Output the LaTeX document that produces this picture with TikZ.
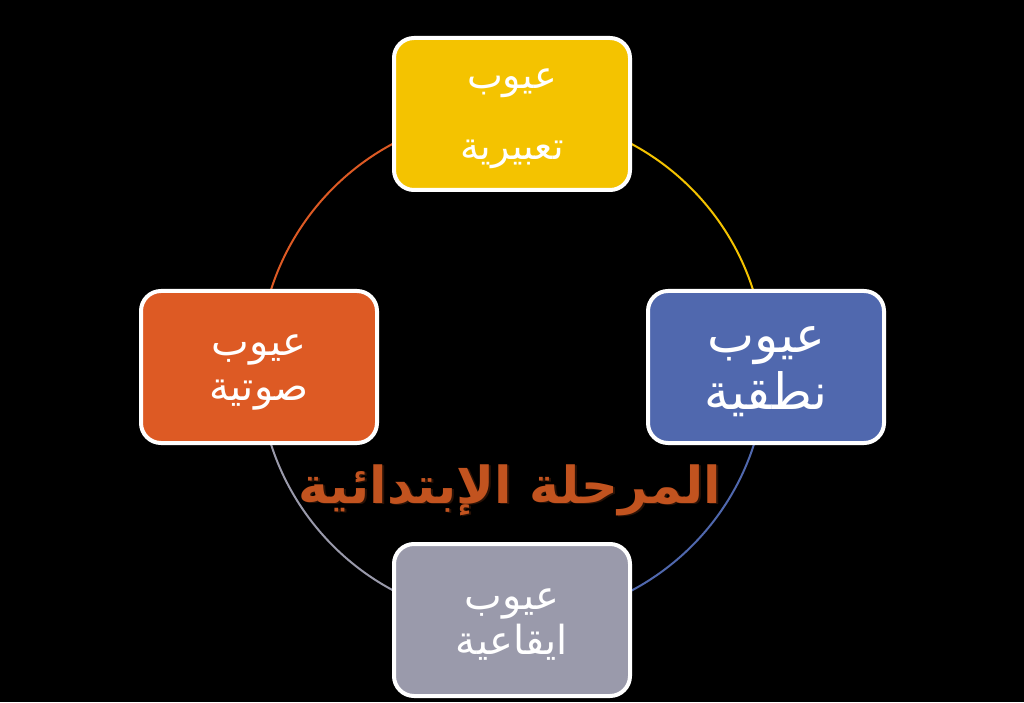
\documentclass[tikz,border=0pt]{standalone}
\usepackage{fontspec}
\usetikzlibrary{backgrounds}
\TeXXeTstate=1
\newfontfamily\arabicfont[Script=Arabic]{DejaVu Sans}
\definecolor{cyel}{HTML}{F4C300}
\definecolor{cblue}{HTML}{5068AE}
\definecolor{corange}{HTML}{DD5A24}
\definecolor{cgray}{HTML}{9A9AAB}
\definecolor{ctitle}{HTML}{C2531F}
\definecolor{cshadow}{HTML}{2A1206}
\tikzset{
  box/.style={draw=white, line width=4pt, rounded corners=20pt,
    minimum width=236pt, minimum height=152pt, inner sep=0pt},
  lbl/.style={align=center, text=white, yshift=-5pt, inner sep=0pt},
  ring/.style={line width=2pt},
  titlefont/.style={font=\arabicfont\bfseries\fontsize{51}{58}\selectfont}
}
\begin{document}
\begin{tikzpicture}[x=1pt,y=1pt]
\node[box, fill=cyel, label={[lbl, font=\arabicfont\fontsize{38}{44}\selectfont]center:{\beginR عيوب\endR\\[27pt]\beginR تعبيرية\endR}}] (top) at (512,588) {};
\node[box, fill=cblue, label={[lbl, font=\arabicfont\fontsize{50}{57}\selectfont]center:{\beginR عيوب\endR\\\beginR نطقية\endR}}] (right) at (766,335) {};
\node[box, fill=corange, label={[lbl, font=\arabicfont\fontsize{40}{45}\selectfont]center:{\beginR عيوب\endR\\\beginR صوتية\endR}}] (left) at (259,335) {};
\node[box, fill=cgray, label={[lbl, font=\arabicfont\fontsize{40}{45}\selectfont]center:{\beginR عيوب\endR\\\beginR ايقاعية\endR}}] (bottom) at (512,82) {};
\begin{scope}[on background layer]
\fill[black] (0,0) rectangle (1024,702);
\draw[ring, cyel] (top.center) arc[start angle=90, end angle=0, radius=253];
\draw[ring, cblue] (right.center) arc[start angle=0, end angle=-90, radius=253];
\draw[ring, cgray] (bottom.center) arc[start angle=270, end angle=180, radius=253];
\draw[ring, corange] (left.center) arc[start angle=180, end angle=90, radius=253];
\end{scope}
\useasboundingbox (0,0) rectangle (1024,702);
\node[text=cshadow, titlefont] (titleshadow) at (512,210.5)
  {\beginR المرحلة الإبتدائية\endR};
\node[text=ctitle, titlefont] (title) at (510,212)
  {\beginR المرحلة الإبتدائية\endR};
\end{tikzpicture}
\end{document}
